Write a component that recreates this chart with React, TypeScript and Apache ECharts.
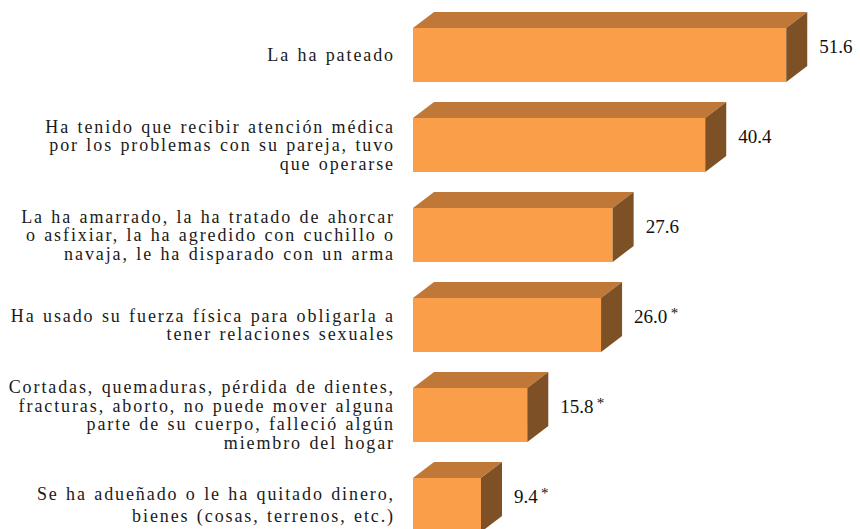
import React, { useEffect, useRef } from "react";
import * as echarts from "echarts";

const categories: string[] = [
  "La ha pateado",
  "Ha tenido que recibir atención médica\npor los problemas con su pareja, tuvo\nque operarse",
  "La ha amarrado, la ha tratado de ahorcar\no asfixiar, la ha agredido con cuchillo o\nnavaja, le ha disparado con un arma",
  "Ha usado su fuerza física para obligarla a\ntener relaciones sexuales",
  "Cortadas, quemaduras, pérdida de dientes,\nfracturas, aborto, no puede mover alguna\nparte de su cuerpo, falleció algún\nmiembro del hogar",
  "Se ha adueñado o le ha quitado dinero,\nbienes (cosas, terrenos, etc.)",
];
const values: number[] = [51.6, 40.4, 27.6, 26.0, 15.8, 9.4];
const valueLabels: string[] = ["51.6", "40.4", "27.6", "26.0", "15.8", "9.4"];
const starred: boolean[] = [false, false, false, true, true, true];

const FRONT = "#FA9E4A";
const TOP = "#C07838";
const SIDE = "#7D5026";
const SERIF = "'Liberation Serif', 'Times New Roman', 'DejaVu Serif', serif";

export default function App() {
  const ref = useRef<HTMLDivElement>(null);
  useEffect(() => {
    document.body.style.margin = "0";
    const chart = echarts.init(ref.current!, null, { renderer: "svg" });
    const dx = 21;
    const dy = 16;
    const lines = new Set<string>();
    categories.forEach((c) => c.split("\n").forEach((l) => lines.add(l.trim())));
    const spread = () => {
      const el = ref.current;
      if (!el) return;
      el.querySelectorAll("text").forEach((t) => {
        const s = (t.textContent || "").trim();
        if (lines.has(s)) {
          (t as SVGTextElement).style.letterSpacing = "1.9px";
          (t as SVGTextElement).style.wordSpacing = "1px";
        }
      });
    };
    chart.on("finished", spread);
    chart.setOption({
      animation: false,
      backgroundColor: "#ffffff",
      textStyle: { fontFamily: SERIF },
      grid: { left: 413, top: 10, width: 434, height: 540, containLabel: false },
      xAxis: {
        type: "value",
        min: 0,
        max: 60,
        show: false,
      },
      yAxis: {
        type: "category",
        inverse: true,
        data: categories,
        axisLine: { show: false },
        axisTick: { show: false },
        axisLabel: {
          margin: 18,
          align: "right",
          fontFamily: SERIF,
          fontSize: 18,
          lineHeight: 18.5,
          color: "#1a1a1a",
          formatter: (v: string, i: number) =>
            i === categories.length - 1 ? `{w|${v}}` : v,
          rich: {
            w: {
              fontFamily: SERIF,
              fontSize: 18,
              lineHeight: 22,
              color: "#1a1a1a",
              align: "right",
            },
          },
        },
      },
      series: [
        {
          type: "custom",
          data: values.map((v, i) => [v, i]),
          encode: { x: 0, y: 1 },
          renderItem: (params: any, api: any) => {
            const idx = params.dataIndex;
            const v = api.value(0);
            const c = api.value(1);
            const p0 = api.coord([0, c]);
            const p1 = api.coord([v, c]);
            const band = api.size([0, 1])[1];
            const h = band * 0.6;
            const x0 = p0[0];
            const x1 = p1[0];
            const yT = p0[1] - h / 2;
            const yB = p0[1] + h / 2;
            const label = valueLabels[idx];
            return {
              type: "group",
              children: [
                {
                  type: "polygon",
                  shape: { points: [[x0, yT], [x1, yT], [x1, yB], [x0, yB]] },
                  style: { fill: FRONT },
                },
                {
                  type: "polygon",
                  shape: { points: [[x0, yT], [x0 + dx, yT - dy], [x1 + dx, yT - dy], [x1, yT]] },
                  style: { fill: TOP },
                },
                {
                  type: "polygon",
                  shape: { points: [[x1, yT], [x1 + dx, yT - dy], [x1 + dx, yB - dy], [x1, yB]] },
                  style: { fill: SIDE },
                },
                {
                  type: "text",
                  x: x1 + dx + 12,
                  y: p0[1] - 9,
                  style: {
                    text: starred[idx] ? `{v|${label}} {a|*}` : `{v|${label}}`,
                    verticalAlign: "middle",
                    align: "left",
                    rich: {
                      v: { fontFamily: SERIF, fontSize: 19, fill: "#111111", lineHeight: 22 },
                      a: { fontFamily: SERIF, fontSize: 15, fill: "#111111", lineHeight: 22, verticalAlign: "top" },
                    },
                  },
                },
              ],
            };
          },
        },
      ],
    });
    spread();
    return () => chart.dispose();
  }, []);
  return (
    <div style={{ position: "absolute", left: 0, top: 0, width: 860, height: 529, overflow: "hidden" }}>
      <div ref={ref} style={{ width: 860, height: 560 }} />
    </div>
  );
}
